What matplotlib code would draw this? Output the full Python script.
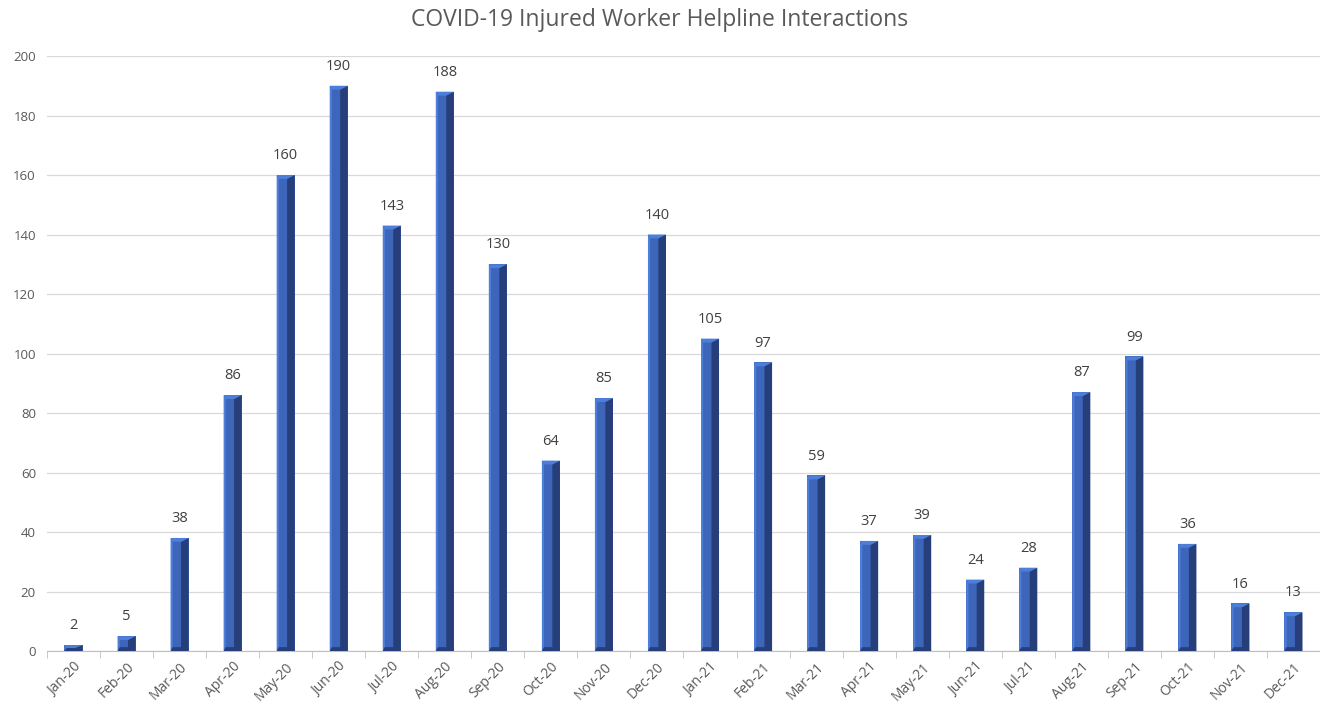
import matplotlib
matplotlib.use("Agg")
import matplotlib.pyplot as plt
from matplotlib.patches import Polygon

months = ["Jan-20", "Feb-20", "Mar-20", "Apr-20", "May-20", "Jun-20", "Jul-20", "Aug-20",
          "Sep-20", "Oct-20", "Nov-20", "Dec-20", "Jan-21", "Feb-21", "Mar-21", "Apr-21",
          "May-21", "Jun-21", "Jul-21", "Aug-21", "Sep-21", "Oct-21", "Nov-21", "Dec-21"]
values = [2, 5, 38, 86, 160, 190, 143, 188, 130, 64, 85, 140, 105, 97, 59, 37,
          39, 24, 28, 87, 99, 36, 16, 13]
yticks = list(range(0, 201, 20))
title = "COVID-19 Injured Worker Helpline Interactions"

plt.rcParams['font.family'] = ['Open Sans', 'DejaVu Sans']

fig = plt.figure(figsize=(13.2, 7.08), dpi=100)
ax = fig.add_axes([0.0356, 0.0805, 0.9644, 0.8404])

w = 0.34
bev = 1.3  # bevel height in data units
mid_c = "#3d66bb"
dark_c = "#263f7a"
light_c = "#4d7ed9"

x = list(range(len(values)))
ax.bar(x, values, w, color=mid_c, edgecolor="none", zorder=2)
for i, v in zip(x, values):
    l, r = i - w / 2, i + w / 2
    b = min(bev, v * 0.5)
    ax.add_patch(Polygon([(i + w * 0.08, 0), (r, 0), (r, v), (i + w * 0.08, v - b)],
                         closed=True, facecolor=dark_c, edgecolor="none", zorder=3))
    ax.add_patch(Polygon([(l, 0), (l + w * 0.12, b), (l + w * 0.12, v - b), (l, v)],
                         closed=True, facecolor=light_c, edgecolor="none", zorder=3))
    ax.add_patch(Polygon([(l, v), (r, v), (i + w * 0.08, v - b), (l + w * 0.12, v - b)],
                         closed=True, facecolor=light_c, edgecolor="none", zorder=3))
    ax.add_patch(Polygon([(l, 0), (r, 0), (i + w * 0.08, b), (l + w * 0.12, b)],
                         closed=True, facecolor=dark_c, edgecolor="none", zorder=3))
    ax.text(i, v + 4, str(v), ha="center", va="bottom", fontsize=10.5, color="#404040")

ax.set_xlim(-0.5, len(values) - 0.5)
ax.set_ylim(0, 200)
ax.set_yticks(yticks)
ax.set_yticklabels([str(t) for t in yticks], fontsize=9.5, color="#595959")
ax.yaxis.grid(True, color="#d9d9d9", linewidth=0.9, zorder=0)
ax.set_axisbelow(True)
ax.tick_params(axis="y", length=0, pad=8)

ax.set_xticks(x)
ax.set_xticklabels(months, rotation=45, ha="right", rotation_mode="anchor",
                   fontsize=10, color="#595959")
ax.tick_params(axis="x", which="major", length=0, pad=6)
ax.set_xticks([k - 0.5 for k in range(len(values) + 1)], minor=True)
ax.tick_params(axis="x", which="minor", length=5, color="#bfbfbf", direction="out")

for s in ["top", "right", "left"]:
    ax.spines[s].set_visible(False)
ax.spines["bottom"].set_color("#bfbfbf")

fig.suptitle(title, y=0.988, fontsize=16.5, color="#595959")

fig.savefig("out.png", dpi=100)
